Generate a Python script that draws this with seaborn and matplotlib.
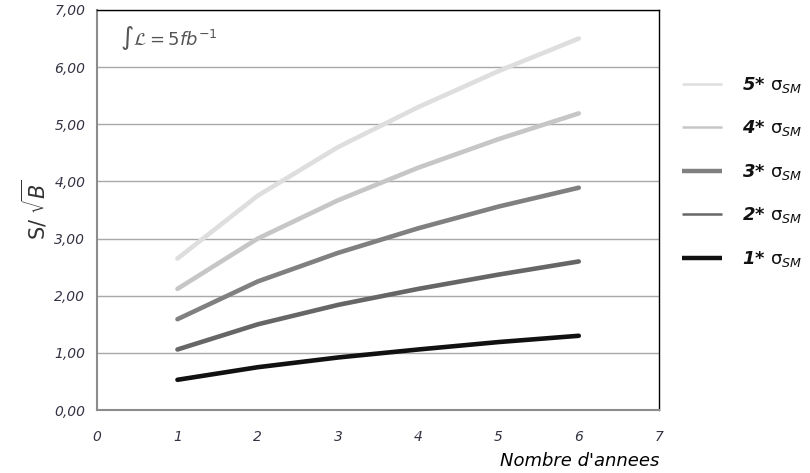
import matplotlib
matplotlib.use("Agg")
import matplotlib.pyplot as plt
import seaborn as sns
import pandas as pd
from matplotlib.lines import Line2D
from matplotlib.ticker import FuncFormatter, MultipleLocator

years = [1, 2, 3, 4, 5, 6]
s5 = [2.65, 3.75, 4.60, 5.30, 5.93, 6.50]
s4 = [2.12, 3.00, 3.67, 4.24, 4.74, 5.19]
s3 = [1.59, 2.25, 2.75, 3.18, 3.56, 3.89]
s2 = [1.06, 1.50, 1.84, 2.12, 2.37, 2.60]
s1 = [0.53, 0.75, 0.92, 1.06, 1.19, 1.30]
series_names = ["5", "4", "3", "2", "1"]
series_vals = [s5, s4, s3, s2, s1]

rows = []
for n, vals in zip(series_names, series_vals):
    for x, y in zip(years, vals):
        rows.append({"annees": x, "val": y, "serie": n})
df = pd.DataFrame(rows)

sns.set_theme(style="white")
plt.rcParams['font.family'] = ['DejaVu Sans']

colors = {"5": "#dedede", "4": "#c6c6c6", "3": "#808080", "2": "#666666", "1": "#111111"}
leg_widths = {"5": 1.8, "4": 1.8, "3": 3.2, "2": 1.8, "1": 3.2}

fig = plt.figure(figsize=(8.1, 4.73), dpi=100)
ax = fig.add_axes([0.12, 0.133, 0.6936, 0.846])

for n in series_names:
    sub = df[df["serie"] == n]
    sns.lineplot(data=sub, x="annees", y="val", ax=ax, color=colors[n],
                 linewidth=3.3, solid_capstyle="round", legend=False)

ax.set_xlim(0, 7)
ax.set_ylim(0, 7)
ax.xaxis.set_major_locator(MultipleLocator(1))
ax.yaxis.set_major_locator(MultipleLocator(1))
ax.yaxis.set_major_formatter(FuncFormatter(lambda v, p: f"{v:.2f}".replace(".", ",")))
ax.grid(axis="y", color="#a8a8a8", linewidth=1)
ax.grid(axis="x", visible=False)
ax.set_axisbelow(True)

for side in ["left", "bottom"]:
    ax.spines[side].set_color("#8c8c8c")
    ax.spines[side].set_linewidth(1.5)
for side in ["top", "right"]:
    ax.spines[side].set_color("black")
    ax.spines[side].set_linewidth(1.0)

ax.tick_params(axis="both", which="major", direction="out", length=5, width=1,
               color="#8c8c8c", labelsize=10, labelcolor="#333344")
ax.tick_params(axis="x", pad=9)
for lab in ax.get_xticklabels() + ax.get_yticklabels():
    lab.set_fontstyle("italic")

ax.set_xlabel("Nombre d'annees", fontsize=13, fontstyle="italic", color="black")
ax.xaxis.set_label_coords(1.0, -0.105)
ax.xaxis.label.set_horizontalalignment("right")
ax.set_ylabel(r"S/ $\sqrt{B}$", fontsize=15, color="#333333")
ax.yaxis.set_label_coords(-0.085, 0.5)

ax.text(0.04, 0.965, r"$\int \mathcal{L} = 5fb^{-1}$", transform=ax.transAxes,
        fontsize=13, color="#555555", va="top", ha="left")

handles = [Line2D([], [], color=colors[n], linewidth=leg_widths[n], solid_capstyle="butt")
           for n in series_names]
new_labels = [rf"{n}* $\mathrm{{σ}}_{{SM}}$" for n in series_names]
leg = ax.legend(handles, new_labels, loc="upper left", bbox_to_anchor=(1.012, 0.878),
                frameon=False, prop={"size": 13, "weight": "bold", "style": "italic"},
                labelspacing=1.3, handlelength=2.2, handletextpad=1.1)
for t in leg.get_texts():
    t.set_color("#111111")

fig.savefig("out.png", dpi=100)
